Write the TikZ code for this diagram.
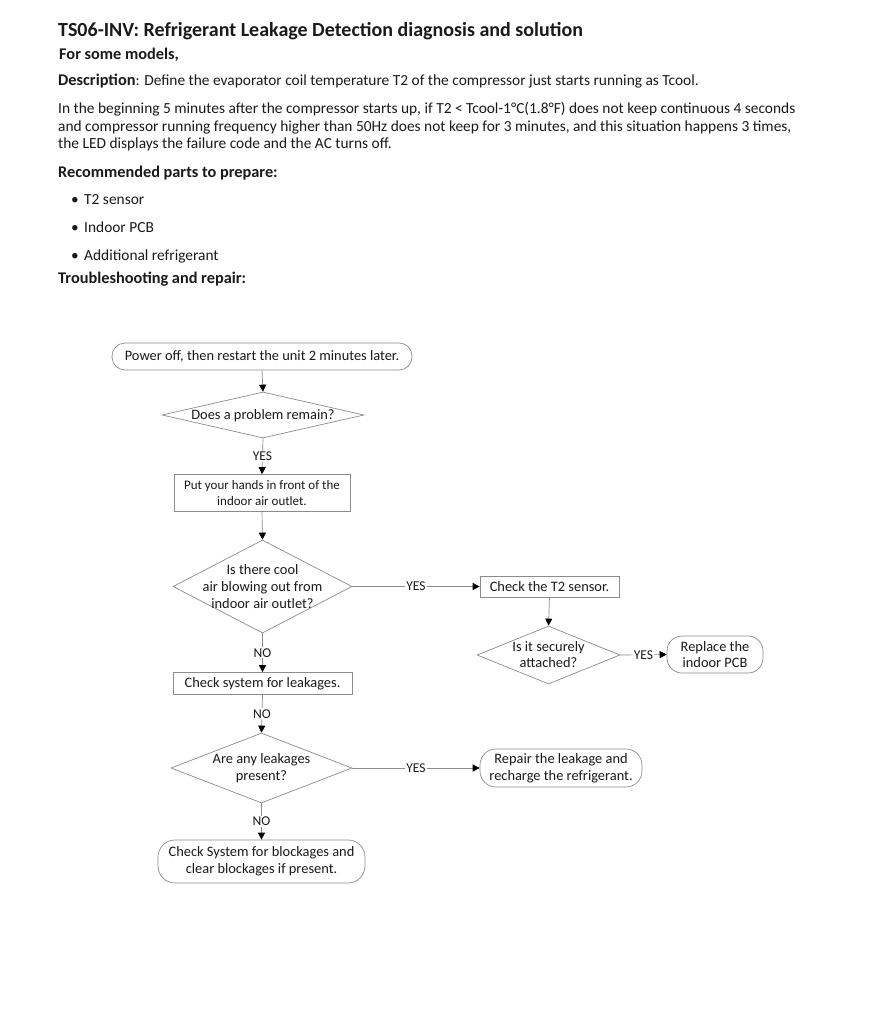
\documentclass[tikz,border=0pt]{standalone}
\usepackage{fontspec}
\setmainfont{Carlito}
\usetikzlibrary{shapes.geometric,arrows.meta}
\definecolor{lgray}{HTML}{8C8C8C}
\definecolor{ink}{HTML}{1A1A1A}
\tikzset{
  txt/.style={anchor=base west,inner sep=0pt,text=ink,font=\fontsize{15.4}{17}\selectfont},
  hdr/.style={txt,font=\fontsize{16.3}{18}\selectfont\bfseries},
  box/.style={draw=lgray,line width=0.7pt,rectangle,inner sep=0pt,align=center,text=ink,font=\fontsize{14.4}{17}\selectfont},
  rbox/.style={box,rounded corners=13pt},
  dia/.style={draw=lgray,line width=0.7pt,diamond,inner sep=0pt},
  dtext/.style={align=center,text=ink,font=\fontsize{14.4}{17}\selectfont,inner sep=0pt},
  conn/.style={draw=lgray,line width=0.7pt,-{Triangle[length=7pt,width=7pt,color=black]}},
  lab/.style={fill=white,inner sep=1pt,text=ink,font=\fontsize{13.5}{15}\selectfont}
}
\begin{document}
\begin{tikzpicture}[x=1pt,y=-1pt]
\useasboundingbox[fill=white] (0,0) rectangle (872,1024);
% header text
\node[txt,font=\fontsize{20}{22}\selectfont\bfseries] (title) at (58,36.5) {TS06-INV: Refrigerant Leakage Detection diagnosis and solution};
\node[hdr] (models) at (59,60) {For some models,};
\node[txt] (desc) at (58,86) {{\fontsize{16.3}{17}\selectfont\bfseries Description}: Define the evaporator coil temperature T2 of the compressor just starts running as Tcool.};
\node[txt] (p1) at (58,114) {In the beginning 5 minutes after the compressor starts up, if T2 < Tcool-1°C(1.8°F) does not keep continuous 4 seconds};
\node[txt] (p2) at (58,132) {and compressor running frequency higher than 50Hz does not keep for 3 minutes, and this situation happens 3 times,};
\node[txt] (p3) at (58,149) {the LED displays the failure code and the AC turns off.};
\node[hdr] (rec) at (58,178) {Recommended parts to prepare:};
\node[txt] (bu1) at (71,205) {\textbullet};
\node[txt] (b1) at (84,205) {T2 sensor};
\node[txt] (bu2) at (71,233) {\textbullet};
\node[txt] (b2) at (84,233) {Indoor PCB};
\node[txt] (bu3) at (71,260) {\textbullet};
\node[txt] (b3) at (84,260) {Additional refrigerant};
\node[hdr] (trb) at (58,283.5) {Troubleshooting and repair:};
% flowchart
\node[rbox,minimum width=300pt,minimum height=27pt] (start) at (262,356.5) {Power off, then restart the unit 2 minutes later.};
\node[dia,minimum width=202pt,minimum height=46pt] (d1) at (263,415) {};
\node[dtext] (d1t) at ([yshift=-1pt]d1.center) {Does a problem remain?};
\node[box,minimum width=176pt,minimum height=37pt,font=\fontsize{13}{16}\selectfont] (hands) at (262,493) {Put your hands in front of the\\indoor air outlet.};
\node[dia,minimum width=179pt,minimum height=93pt] (d2) at (262.5,586.5) {};
\node[dtext] (d2t) at (d2.center) {Is there cool\\air blowing out from\\indoor air outlet?};
\node[box,minimum width=139pt,minimum height=21pt] (t2) at (549.5,586.5) {Check the T2 sensor.};
\node[dia,minimum width=143pt,minimum height=58pt] (d3) at (548.5,655) {};
\node[dtext,font=\fontsize{14.4}{16}\selectfont] (d3t) at (d3.center) {Is it securely\\attached?};
\node[rbox,minimum width=96pt,minimum height=37pt,rounded corners=15pt,font=\fontsize{14.4}{16}\selectfont] (pcb) at (715,654.5) {Replace the\\indoor PCB};
\node[box,minimum width=179pt,minimum height=22pt] (leak) at (262.5,683.5) {Check system for leakages.};
\node[dia,minimum width=181pt,minimum height=70pt] (d4) at (261.5,768) {};
\node[dtext] (d4t) at (d4.center) {Are any leakages\\present?};
\node[rbox,minimum width=162pt,minimum height=38pt,rounded corners=16pt] (repair) at (561,768) {Repair the leakage and\\recharge the refrigerant.};
\node[rbox,minimum width=207pt,minimum height=43pt,rounded corners=17pt] (block) at (261.5,861.5) {Check System for blockages and\\clear blockages if present.};
% connectors
\draw[conn] (start.south) -- (d1.north);
\draw[conn] (d1.south) -- (hands.north);
\draw[conn] (hands.south) -- (d2.north);
\draw[conn] (d2.east) -- (t2.west);
\draw[conn] (t2.south) -- (d3.north);
\draw[conn] (d3.east) -- (pcb.west);
\draw[conn] (d2.south) -- (leak.north);
\draw[conn] (leak.south) -- (d4.north);
\draw[conn] (d4.east) -- (repair.west);
\draw[conn] (d4.south) -- (block.north);
% connector labels
\path (d1.south) -- node[lab] (l1) {YES} (hands.north);
\path (d2.east) -- node[lab] (l2) {YES} (t2.west);
\path (d3.east) -- node[lab] (l3) {YES} (pcb.west);
\path (d2.south) -- node[lab] (l4) {NO} (leak.north);
\path (leak.south) -- node[lab] (l5) {NO} (d4.north);
\path (d4.east) -- node[lab] (l6) {YES} (repair.west);
\path (d4.south) -- node[lab] (l7) {NO} (block.north);
\end{tikzpicture}
\end{document}
